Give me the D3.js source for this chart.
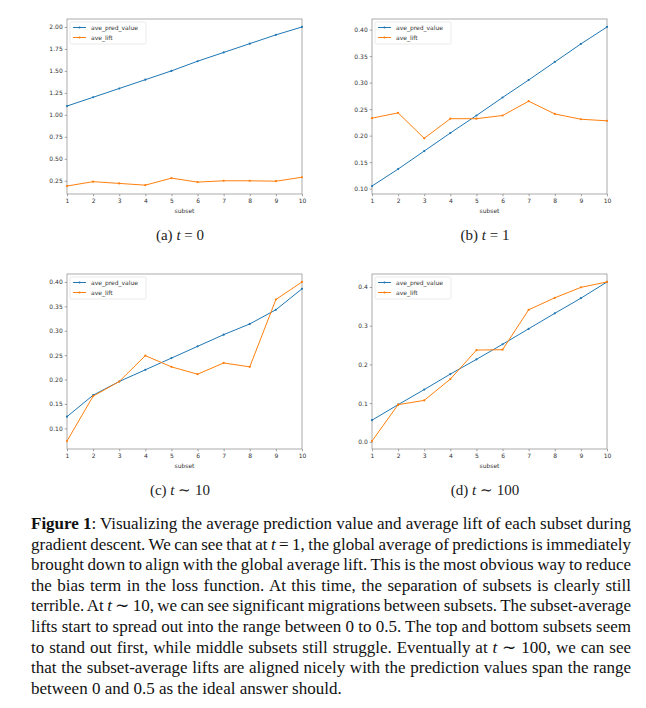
<!DOCTYPE html>
<html>
<head>
<meta charset="utf-8">
<script src="https://cdn.jsdelivr.net/npm/d3@7"></script>
<style>
  body { margin: 0; background: #fff; }
  svg { display: block; }
</style>
</head>
<body>
<svg id="fig" width="646" height="708"></svg>
<script>
// data
const subsets = [1, 2, 3, 4, 5, 6, 7, 8, 9, 10];
const predA = [1.10, 1.20, 1.30, 1.40, 1.50, 1.61, 1.71, 1.81, 1.91, 2.00];
const liftA = [0.19, 0.24, 0.22, 0.20, 0.28, 0.235, 0.25, 0.25, 0.245, 0.29];
const predB = [0.105, 0.137, 0.171, 0.205, 0.238, 0.272, 0.305, 0.339, 0.373, 0.405];
const liftB = [0.233, 0.243, 0.195, 0.232, 0.232, 0.238, 0.265, 0.241, 0.231, 0.228];
const predC = [0.124, 0.168, 0.196, 0.220, 0.244, 0.268, 0.292, 0.314, 0.343, 0.386];
const liftC = [0.074, 0.166, 0.196, 0.249, 0.226, 0.211, 0.234, 0.226, 0.364, 0.400];
const predD = [0.056, 0.096, 0.135, 0.175, 0.213, 0.252, 0.292, 0.332, 0.371, 0.413];
const liftD = [0.002, 0.096, 0.107, 0.162, 0.237, 0.238, 0.341, 0.372, 0.399, 0.413];

const ticksA = [0.25, 0.50, 0.75, 1.00, 1.25, 1.50, 1.75, 2.00];
const ticksB = [0.10, 0.15, 0.20, 0.25, 0.30, 0.35, 0.40];
const ticksC = [0.10, 0.15, 0.20, 0.25, 0.30, 0.35, 0.40];
const ticksD = [0.0, 0.1, 0.2, 0.3, 0.4];

const seriesNames = ["ave_pred_value", "ave_lift"];
const subCaptions = [["(a) ", "t", " = 0"], ["(b) ", "t", " = 1"], ["(c) ", "t", " \u223C 10"], ["(d) ", "t", " \u223C 100"]];

const BLUE = "#1f77b4", ORANGE = "#ff7f0e";
const svg = d3.select("#fig");

const panels = [
  {pred: predA, lift: liftA, ticks: ticksA, fmt: ".2f", x: 67, y: 19},
  {pred: predB, lift: liftB, ticks: ticksB, fmt: ".2f", x: 372, y: 19},
  {pred: predC, lift: liftC, ticks: ticksC, fmt: ".2f", x: 67, y: 274},
  {pred: predD, lift: liftD, ticks: ticksD, fmt: ".1f", x: 372, y: 274}
];
const W = 235, H = 175;

panels.forEach(function(p, idx){
  const g = svg.append("g").attr("transform", "translate(" + p.x + "," + p.y + ")");

  // matplotlib style 5% margins
  const lo = d3.min(p.pred.concat(p.lift)), hi = d3.max(p.pred.concat(p.lift));
  const pad = (hi - lo) * 0.05;
  const x = d3.scaleLinear().domain([1, 10]).range([0, W]);
  const y = d3.scaleLinear().domain([lo - pad, hi + pad]).range([H, 0]);

  const xAxis = g.append("g").attr("transform", "translate(0," + H + ")")
    .call(d3.axisBottom(x).tickValues(subsets).tickFormat(d3.format("d")).tickSize(2.3).tickPadding(2));
  const yAxis = g.append("g")
    .call(d3.axisLeft(y).tickValues(p.ticks).tickFormat(d3.format(p.fmt)).tickSize(2.3).tickPadding(2));
  [xAxis, yAxis].forEach(function(a){
    a.select(".domain").remove();
    a.selectAll("line").attr("stroke", "#666").attr("stroke-width", 0.6);
    a.selectAll("text").attr("font-family", "DejaVu Sans").attr("font-size", 6).attr("fill", "#333");
  });

  g.append("rect").attr("width", W).attr("height", H)
    .attr("fill", "none").attr("stroke", "#888").attr("stroke-width", 0.7);

  const line = d3.line().x((d, i) => x(subsets[i])).y(d => y(d));
  [[p.pred, BLUE], [p.lift, ORANGE]].forEach(function(s){
    g.append("path").datum(s[0]).attr("d", line)
      .attr("fill", "none").attr("stroke", s[1]).attr("stroke-width", 1);
    g.selectAll(null).data(s[0]).enter().append("circle")
      .attr("cx", (d, i) => x(subsets[i])).attr("cy", d => y(d))
      .attr("r", 1.1).attr("fill", s[1]);
  });

  // legend
  const lg = g.append("g").attr("transform", "translate(3,3)");
  lg.append("rect").attr("width", 76).attr("height", 22).attr("rx", 1.5)
    .attr("fill", "#fff").attr("fill-opacity", 0.8).attr("stroke", "#ddd").attr("stroke-width", 0.6);
  seriesNames.forEach(function(n, i){
    const cy = 5.5 + i * 10;
    const c = i == 0 ? BLUE : ORANGE;
    lg.append("line").attr("x1", 3).attr("x2", 16).attr("y1", cy).attr("y2", cy)
      .attr("stroke", c).attr("stroke-width", 1);
    lg.append("circle").attr("cx", 9.5).attr("cy", cy).attr("r", 1.1).attr("fill", c);
    lg.append("text").attr("x", 21).attr("y", cy).attr("dy", "0.35em")
      .attr("font-family", "DejaVu Sans").attr("font-size", 6).attr("fill", "#333").text(n);
  });

  g.append("text").attr("x", W / 2).attr("y", H + 18.5).attr("text-anchor", "middle")
    .attr("font-family", "DejaVu Sans").attr("font-size", 6).attr("fill", "#333").text("subset");

  // sub caption
  const sc = svg.append("text").attr("x", p.x + 113).attr("y", p.y + 221).attr("text-anchor", "middle")
    .attr("font-family", "Liberation Serif").attr("font-size", 15).attr("fill", "#222");
  sc.append("tspan").text(subCaptions[idx][0]);
  sc.append("tspan").attr("font-style", "italic").text(subCaptions[idx][1]);
  sc.append("tspan").text(subCaptions[idx][2]);
});

// figure caption, justified
const captionLines = [
  [["b", "Figure 1"], ["", ": Visualizing the average prediction value and average lift of each subset during"]],
  [["", "gradient descent. We can see that at "], ["i", "t"], ["", " = 1, the global average of predictions is immediately"]],
  [["", "brought down to align with the global average lift. This is the most obvious way to reduce"]],
  [["", "the bias term in the loss function. At this time, the separation of subsets is clearly still"]],
  [["", "terrible. At "], ["i", "t"], ["", " \u223C 10, we can see significant migrations between subsets. The subset-average"]],
  [["", "lifts start to spread out into the range between 0 to 0.5. The top and bottom subsets seem"]],
  [["", "to stand out first, while middle subsets still struggle. Eventually at "], ["i", "t"], ["", " \u223C 100, we can see"]],
  [["", "that the subset-average lifts are aligned nicely with the prediction values span the range"]],
  [["", "between 0 and 0.5 as the ideal answer should."]]
];
const capX = 31, capW = 600;
captionLines.forEach(function(segs, i){
  const t = svg.append("text").attr("x", capX).attr("y", 529 + i * 20.6)
    .attr("font-family", "Liberation Serif").attr("font-size", 17).attr("fill", "#111");
  segs.forEach(function(s){
    const ts = t.append("tspan").text(s[1]);
    if (s[0] == "b") ts.attr("font-weight", "bold");
    if (s[0] == "i") ts.attr("font-style", "italic");
  });
  if (i < captionLines.length - 1) {
    const natural = t.node().getComputedTextLength();
    const spaces = segs.map(s => s[1]).join("").split(" ").length - 1;
    t.attr("word-spacing", (capW - natural) / spaces);
  }
});
</script>
</body>
</html>
